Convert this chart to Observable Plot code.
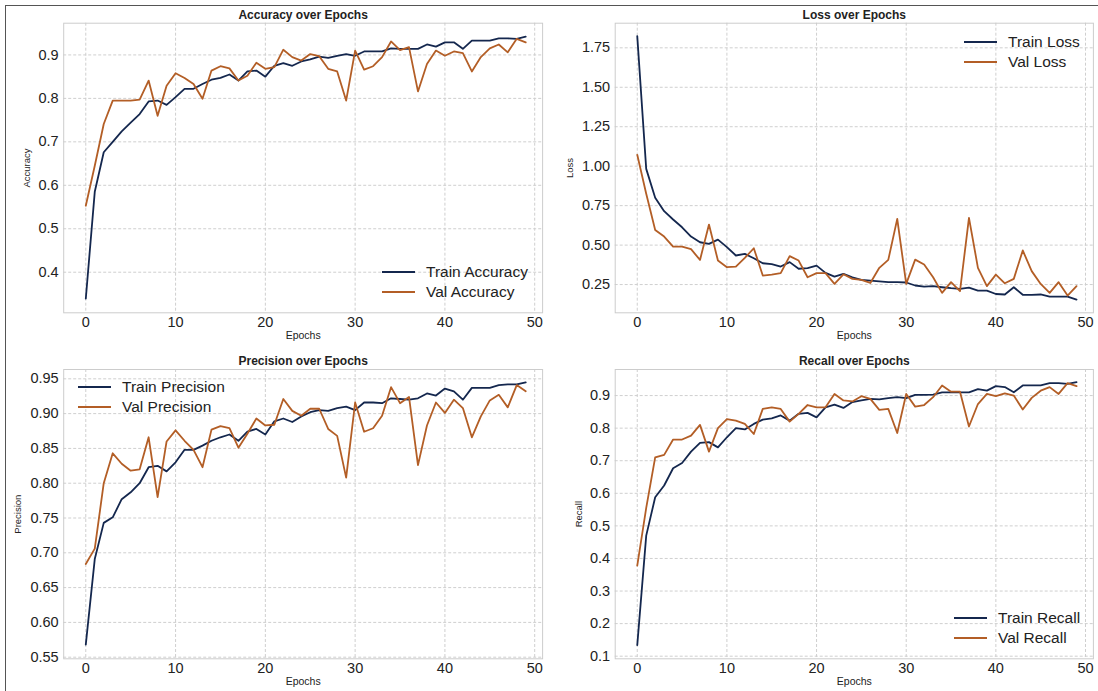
<!DOCTYPE html>
<html>
<head>
<meta charset="utf-8">
<script src="https://cdn.jsdelivr.net/npm/d3@7"></script>
<script src="https://cdn.jsdelivr.net/npm/@observablehq/plot@0.6"></script>
<style>
  body { margin: 0; background: #fff; }
  #fig { position: relative; width: 1098px; height: 691px; background: #fff; overflow: hidden; font-family: "Liberation Sans", Arial, sans-serif; }
  .panel { position: absolute; }
  .legend { position: absolute; font-size: 15.5px; color: #222; line-height: 20px; }
  .legend .row { display: flex; align-items: center; height: 20px; white-space: nowrap; }
  .legend svg { margin-right: 11px; }
  #border { position: absolute; left: 5px; top: 5px; width: 1200px; height: 800px; border-left: 1.5px solid #555; border-top: 1.5px solid #555; }
</style>
</head>
<body>
<div id="fig"><div id="border"></div></div>
<script>
const epochs = [0,1,2,3,4,5,6,7,8,9,10,11,12,13,14,15,16,17,18,19,20,21,22,23,24,25,26,27,28,29,30,31,32,33,34,35,36,37,38,39,40,41,42,43,44,45,46,47,48,49];
const xTicks = [0,10,20,30,40,50];

const trainAcc = [0.339,0.585,0.676,0.700,0.724,0.744,0.764,0.793,0.795,0.785,0.803,0.822,0.822,0.833,0.843,0.847,0.855,0.841,0.862,0.864,0.850,0.875,0.881,0.875,0.885,0.890,0.896,0.893,0.898,0.902,0.898,0.908,0.908,0.908,0.915,0.914,0.914,0.914,0.924,0.919,0.929,0.929,0.914,0.933,0.933,0.933,0.938,0.938,0.937,0.942];
const valAcc = [0.553,0.645,0.741,0.795,0.795,0.795,0.797,0.841,0.760,0.829,0.858,0.847,0.833,0.799,0.864,0.874,0.869,0.841,0.852,0.882,0.868,0.872,0.912,0.895,0.887,0.902,0.897,0.868,0.862,0.795,0.910,0.866,0.874,0.895,0.931,0.911,0.918,0.816,0.879,0.910,0.898,0.908,0.904,0.862,0.895,0.915,0.924,0.906,0.937,0.929];
const accTicks = [0.4,0.5,0.6,0.7,0.8,0.9];

const trainLoss = [1.824,0.983,0.800,0.715,0.662,0.613,0.554,0.518,0.508,0.535,0.487,0.434,0.444,0.417,0.385,0.379,0.364,0.392,0.350,0.354,0.370,0.324,0.300,0.318,0.296,0.280,0.275,0.270,0.265,0.265,0.263,0.244,0.237,0.240,0.233,0.227,0.223,0.230,0.212,0.212,0.190,0.187,0.233,0.185,0.185,0.187,0.174,0.174,0.174,0.155];
const valLoss = [1.072,0.825,0.596,0.554,0.490,0.490,0.474,0.406,0.630,0.402,0.360,0.364,0.419,0.480,0.307,0.313,0.322,0.430,0.402,0.296,0.322,0.322,0.254,0.315,0.286,0.280,0.260,0.356,0.406,0.666,0.254,0.408,0.377,0.296,0.197,0.265,0.208,0.673,0.356,0.240,0.313,0.258,0.286,0.466,0.335,0.254,0.197,0.265,0.180,0.240];
const lossTicks = [0.25,0.5,0.75,1.0,1.25,1.5,1.75];

const trainPrec = [0.568,0.691,0.743,0.751,0.777,0.787,0.800,0.823,0.825,0.817,0.830,0.848,0.848,0.854,0.861,0.866,0.870,0.861,0.874,0.878,0.870,0.889,0.893,0.888,0.896,0.902,0.905,0.904,0.908,0.910,0.905,0.916,0.916,0.915,0.922,0.921,0.920,0.922,0.929,0.926,0.936,0.932,0.920,0.937,0.937,0.937,0.941,0.942,0.942,0.945];
const valPrec = [0.684,0.706,0.800,0.843,0.828,0.818,0.820,0.866,0.780,0.860,0.876,0.861,0.848,0.823,0.877,0.882,0.879,0.851,0.871,0.893,0.883,0.884,0.921,0.904,0.897,0.907,0.907,0.878,0.868,0.808,0.916,0.874,0.879,0.897,0.938,0.915,0.924,0.826,0.883,0.916,0.901,0.920,0.908,0.866,0.896,0.919,0.927,0.909,0.941,0.932];
const precTicks = [0.55,0.6,0.65,0.7,0.75,0.8,0.85,0.9,0.95];

const trainRec = [0.134,0.470,0.588,0.624,0.677,0.693,0.728,0.755,0.757,0.741,0.772,0.800,0.796,0.813,0.826,0.830,0.839,0.823,0.844,0.847,0.833,0.864,0.872,0.862,0.880,0.885,0.890,0.888,0.892,0.895,0.892,0.902,0.902,0.903,0.910,0.910,0.910,0.910,0.920,0.915,0.929,0.926,0.910,0.931,0.931,0.931,0.938,0.938,0.936,0.941];
const valRec = [0.378,0.555,0.710,0.718,0.765,0.765,0.777,0.810,0.728,0.800,0.828,0.823,0.813,0.782,0.859,0.864,0.859,0.820,0.844,0.871,0.864,0.864,0.905,0.885,0.882,0.898,0.890,0.856,0.859,0.785,0.905,0.866,0.871,0.895,0.931,0.912,0.912,0.805,0.874,0.905,0.898,0.907,0.900,0.857,0.893,0.915,0.926,0.905,0.938,0.929];
const recTicks = [0.1,0.2,0.3,0.4,0.5,0.6,0.7,0.8,0.9];

const TRAIN = "#14274e";
const VAL = "#b35e26";
const GRID = "#cfcfcf";

function panel(cfg) {
  const rows = epochs.map((e, i) => ({epoch: e, train: cfg.train[i], val: cfg.val[i]}));
  const p = Plot.plot({
    width: cfg.width, height: cfg.height,
    marginLeft: cfg.ml, marginRight: cfg.mr, marginTop: cfg.mt, marginBottom: cfg.mb,
    style: {fontFamily: '"Liberation Sans", Arial, sans-serif', fontSize: "14px", color: "#222", background: "transparent", overflow: "visible"},
    x: {domain: [-2.46, 50.88], label: null},
    y: {domain: cfg.domain, label: null},
    marks: [
      Plot.gridX({ticks: xTicks, stroke: GRID, strokeOpacity: 1, strokeDasharray: "3,2"}),
      Plot.gridY({ticks: cfg.ticks, stroke: GRID, strokeOpacity: 1, strokeDasharray: "3,2"}),
      Plot.frame({stroke: "#cccccc"}),
      Plot.axisX({ticks: xTicks, tickSize: 0, tickPadding: 4, label: null, fontSize: 14.5}),
      Plot.axisY({ticks: cfg.ticks, tickSize: 0, tickPadding: 5, tickFormat: d3.format(cfg.fmt), label: null, fontSize: 14.5}),
      Plot.line(rows, {x: "epoch", y: "train", stroke: TRAIN, strokeWidth: 1.8}),
      Plot.line(rows, {x: "epoch", y: "val", stroke: VAL, strokeWidth: 1.8}),
      Plot.text([cfg.title], {frameAnchor: "top", textAnchor: "middle", lineAnchor: "middle", dy: -8, fontSize: 12, fontWeight: "bold", fill: "#222"}),
      Plot.text([cfg.ylabel], {frameAnchor: "left", textAnchor: "middle", lineAnchor: "middle", rotate: -90, dx: cfg.ylabelDx, fontSize: 9.5, fill: "#222"}),
      Plot.text(["Epochs"], {frameAnchor: "bottom", textAnchor: "middle", lineAnchor: "middle", dy: 22.7, fontSize: 10.5, fill: "#222"})
    ]
  });
  p.classList.add("panel");
  p.style.left = cfg.left + "px";
  p.style.top = cfg.top + "px";
  return p;
}

function legend(left, top, labels) {
  const div = document.createElement("div");
  div.className = "legend";
  div.style.left = left + "px";
  div.style.top = top + "px";
  [[labels[0], TRAIN], [labels[1], VAL]].forEach(([txt, col]) => {
    const row = document.createElement("div");
    row.className = "row";
    row.innerHTML = `<svg width="33" height="4"><line x1="0" x2="33" y1="2" y2="2" stroke="${col}" stroke-width="2"/></svg><span>${txt}</span>`;
    div.appendChild(row);
  });
  return div;
}

const fig = document.getElementById("fig");
fig.appendChild(panel({left: 0, top: 0, width: 549, height: 345, ml: 63.2, mr: 6.9, mt: 22.7, mb: 32.7,
  train: trainAcc, val: valAcc, domain: [0.3066, 0.973], ticks: accTicks, fmt: ".1f",
  title: "Accuracy over Epochs", ylabel: "Accuracy", ylabelDx: -36.9}));
fig.appendChild(panel({left: 549, top: 0, width: 549, height: 345, ml: 65.7, mr: 5.1, mt: 22.7, mb: 32.7,
  train: trainLoss, val: valLoss, domain: [0.071, 1.906], ticks: lossTicks, fmt: ".2f",
  title: "Loss over Epochs", ylabel: "Loss", ylabelDx: -44.9}));
fig.appendChild(panel({left: 0, top: 345, width: 549, height: 346, ml: 63.2, mr: 6.9, mt: 24, mb: 32.7,
  train: trainPrec, val: valPrec, domain: [0.5477, 0.9634], ticks: precTicks, fmt: ".2f",
  title: "Precision over Epochs", ylabel: "Precision", ylabelDx: -45.7}));
fig.appendChild(panel({left: 549, top: 345, width: 549, height: 346, ml: 65.7, mr: 5.1, mt: 24, mb: 32.7,
  train: trainRec, val: valRec, domain: [0.092, 0.98], ticks: recTicks, fmt: ".1f",
  title: "Recall over Epochs", ylabel: "Recall", ylabelDx: -35.8}));

fig.appendChild(legend(382, 261.7, ["Train Accuracy", "Val Accuracy"]));
fig.appendChild(legend(964, 31.7, ["Train Loss", "Val Loss"]));
fig.appendChild(legend(78, 376.7, ["Train Precision", "Val Precision"]));
fig.appendChild(legend(954, 607.7, ["Train Recall", "Val Recall"]));
</script>
</body>
</html>
